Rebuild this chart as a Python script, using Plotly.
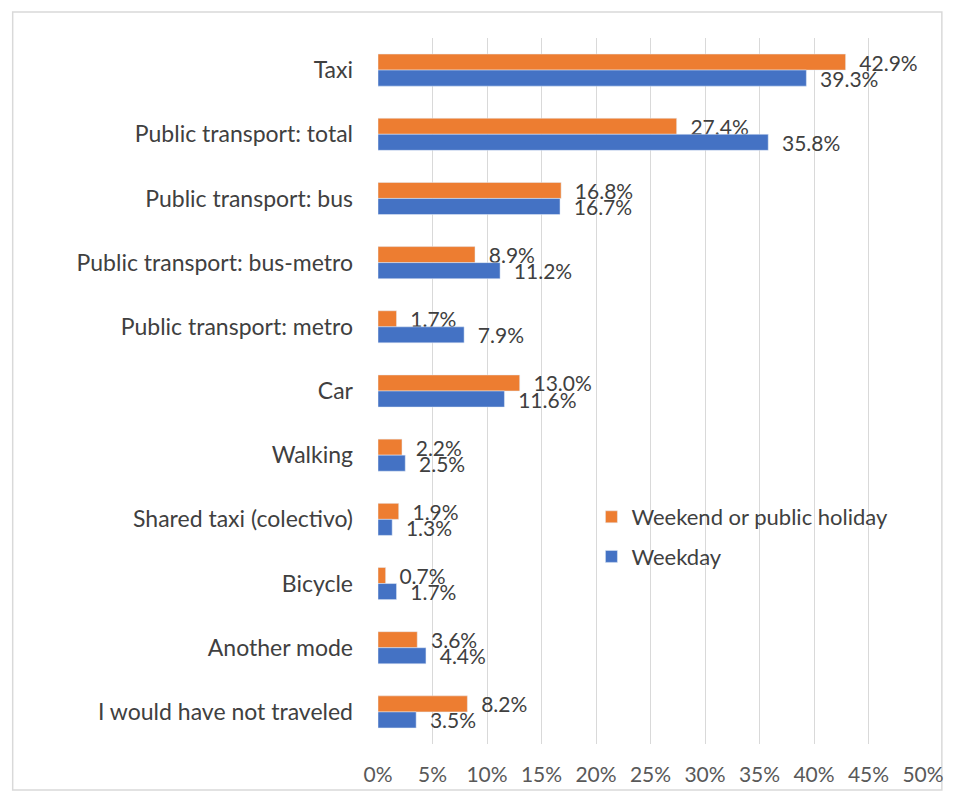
import plotly.graph_objects as go

categories = ["Taxi", "Public transport: total", "Public transport: bus",
              "Public transport: bus-metro", "Public transport: metro", "Car",
              "Walking", "Shared taxi (colectivo)", "Bicycle", "Another mode",
              "I would have not traveled"]
weekend = [42.9, 27.4, 16.8, 8.9, 1.7, 13.0, 2.2, 1.9, 0.7, 3.6, 8.2]
weekday = [39.3, 35.8, 16.7, 11.2, 7.9, 11.6, 2.5, 1.3, 1.7, 4.4, 3.5]
x_ticks = [0, 5, 10, 15, 20, 25, 30, 35, 40, 45, 50]
x_tick_labels = [f"{t}%" for t in x_ticks]

FONT = "Lato, 'Open Sans', sans-serif"
PAD = "\u00a0\u00a0"

fig = go.Figure()
fig.add_trace(go.Bar(
    y=categories, x=[v / 100 for v in weekend], orientation="h",
    name="Weekend or public holiday", marker_color="#ED7D31",
    legendgroup="a",
    text=[f"{v:.1f}%" for v in weekend], texttemplate=PAD + "%{text}",
    textposition="outside", constraintext="none", cliponaxis=False,
    textfont=dict(size=21, color="#404040", family=FONT),
))
fig.add_trace(go.Bar(
    y=categories, x=[v / 100 for v in weekday], orientation="h",
    name="Weekday", marker_color="#4472C4",
    legendgroup="b",
    text=[f"{v:.1f}%" for v in weekday], texttemplate=PAD + "%{text}",
    textposition="outside", constraintext="none", cliponaxis=False,
    textfont=dict(size=21, color="#404040", family=FONT),
))

L, R, T, B = 378, 29, 38, 57
W, H = 956, 801
pw, ph = W - L - R, H - T - B

def px_x(x):
    return (x - L) / pw

def px_y(y):
    return (H - B - y) / ph

fig.update_layout(
    width=W, height=H,
    margin=dict(l=L, r=R, t=T, b=B),
    paper_bgcolor="white", plot_bgcolor="white",
    barmode="group", bargap=0.5, bargroupgap=0.0,
    font=dict(family=FONT, size=22, color="#404040"),
    xaxis=dict(range=[0, 0.5], tickvals=[t / 100 for t in x_ticks],
               ticktext=x_tick_labels, showgrid=True, gridcolor="#D9D9D9",
               gridwidth=1, zeroline=False, showline=False,
               tickfont=dict(size=21, color="#595959", family=FONT),
               ticks="", ticklabelstandoff=16),
    yaxis=dict(autorange="reversed", showgrid=False, showline=False,
               tickfont=dict(size=23, color="#404040", family=FONT),
               ticks="", ticklabelstandoff=24),
    legend=dict(x=px_x(593), y=px_y(496), xanchor="left", yanchor="top",
                bgcolor="rgba(255,255,255,0)",
                font=dict(size=22, color="#404040", family=FONT),
                tracegroupgap=8),
    showlegend=True,
    shapes=[dict(type="rect", xref="paper", yref="paper",
                 x0=px_x(10), x1=px_x(946), y0=px_y(790), y1=px_y(12),
                 line=dict(color="#D9D9D9", width=1.5), layer="below")],
)

fig.write_html("out.html")
